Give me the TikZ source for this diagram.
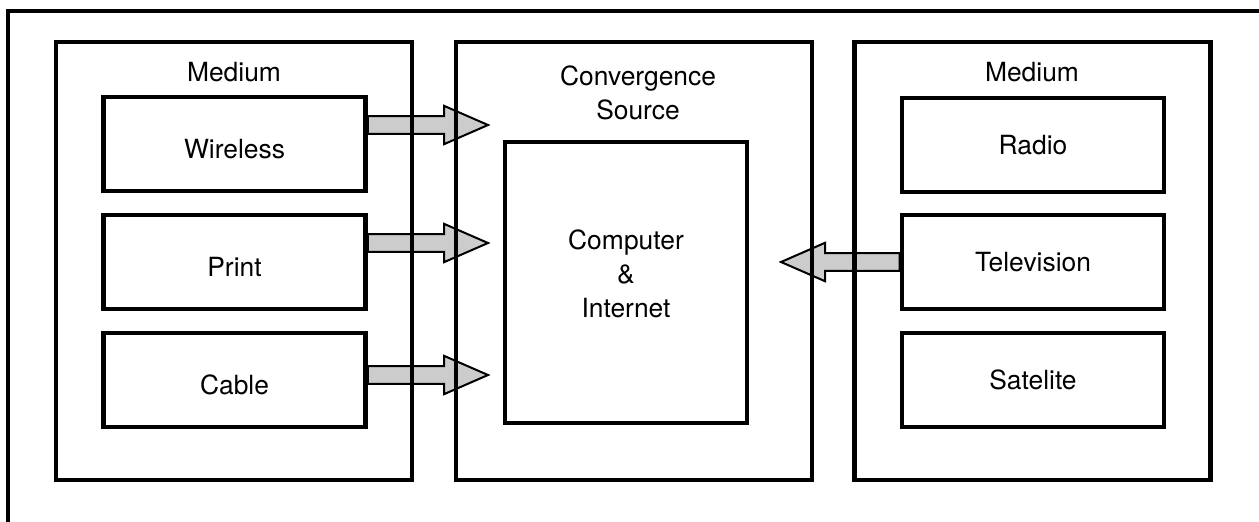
\documentclass[tikz,border=0pt]{standalone}
\usepackage{fontspec}
\setmainfont{TeX Gyre Heros}
\usetikzlibrary{calc,backgrounds}
\tikzset{
  box/.style={draw,line width=2.4pt,rectangle,inner sep=0pt},
  medium/.style={box,minimum width=178pt,minimum height=219pt},
  item/.style={box,minimum width=131pt,minimum height=47pt,font=\fontsize{13.2}{17}\selectfont,text height=9.5pt,text depth=0pt},
  itemL/.style={item,text height=14.5pt},
  lab/.style={inner sep=0pt,align=center,font=\fontsize{13.2}{17}\selectfont},
  fatarrow/.style={draw=black,line width=1pt,fill=black!20,line join=miter,
    to path={let \p1=(\tikztostart), \p2=(\tikztotarget), \p3=($(\tikztotarget)!22pt!(\tikztostart)$) in
      (\x1,\y1+4.4pt) -- (\x3,\y1+4.4pt) -- (\x3,\y1+9.6pt) -- (\x2,\y1) -- (\x3,\y1-9.6pt) -- (\x3,\y1-4.4pt) -- (\x1,\y1-4.4pt) -- cycle}}
}
\begin{document}
\begin{tikzpicture}[x=0.5pt,y=-0.5pt]
\useasboundingbox (0,0) rectangle (1259,521);
\draw[line width=2.4pt] (8,540) -- (8,11) -- (1280,11);
% three columns
\node[medium] (medL) at (234,261) {};
\node[medium] (conv) at (634,261) {};
\node[medium] (medR) at (1032.5,261) {};
\node[lab] (labL) at (234,72) {Medium};
\node[lab] (labC) at (638,93) {Convergence\\Source};
\node[lab] (labR) at (1032,72) {Medium};
% left media
\node[itemL] (wire) at (234.5,144) {Wireless};
\node[itemL] (print) at (234.5,262) {Print};
\node[itemL] (cable) at (234.5,380) {Cable};
% right media
\node[item] (radio) at (1033,145) {Radio};
\node[item] (tv) at (1033,262) {Television};
\node[item] (sat) at (1033,380) {Satelite};
% convergence
\node[box,minimum width=121pt,minimum height=140.5pt] (comp) at (626,282.5) {};
\node[lab] (compTxt) at (626,273.5) {Computer\\\&\\Internet};
\coordinate (inW) at (488,125);
\coordinate (inP) at (488,243);
\coordinate (inC) at (488,375);
\coordinate (inT) at (781,262);
\begin{scope}[on background layer]
\draw[fatarrow] ([yshift=9.5pt]wire.east) to (inW);
\draw[fatarrow] ([yshift=9.5pt]print.east) to (inP);
\draw[fatarrow] ([yshift=2.5pt]cable.east) to (inC);
\draw[fatarrow] (tv.west) to (inT);
\end{scope}
\end{tikzpicture}
\end{document}
